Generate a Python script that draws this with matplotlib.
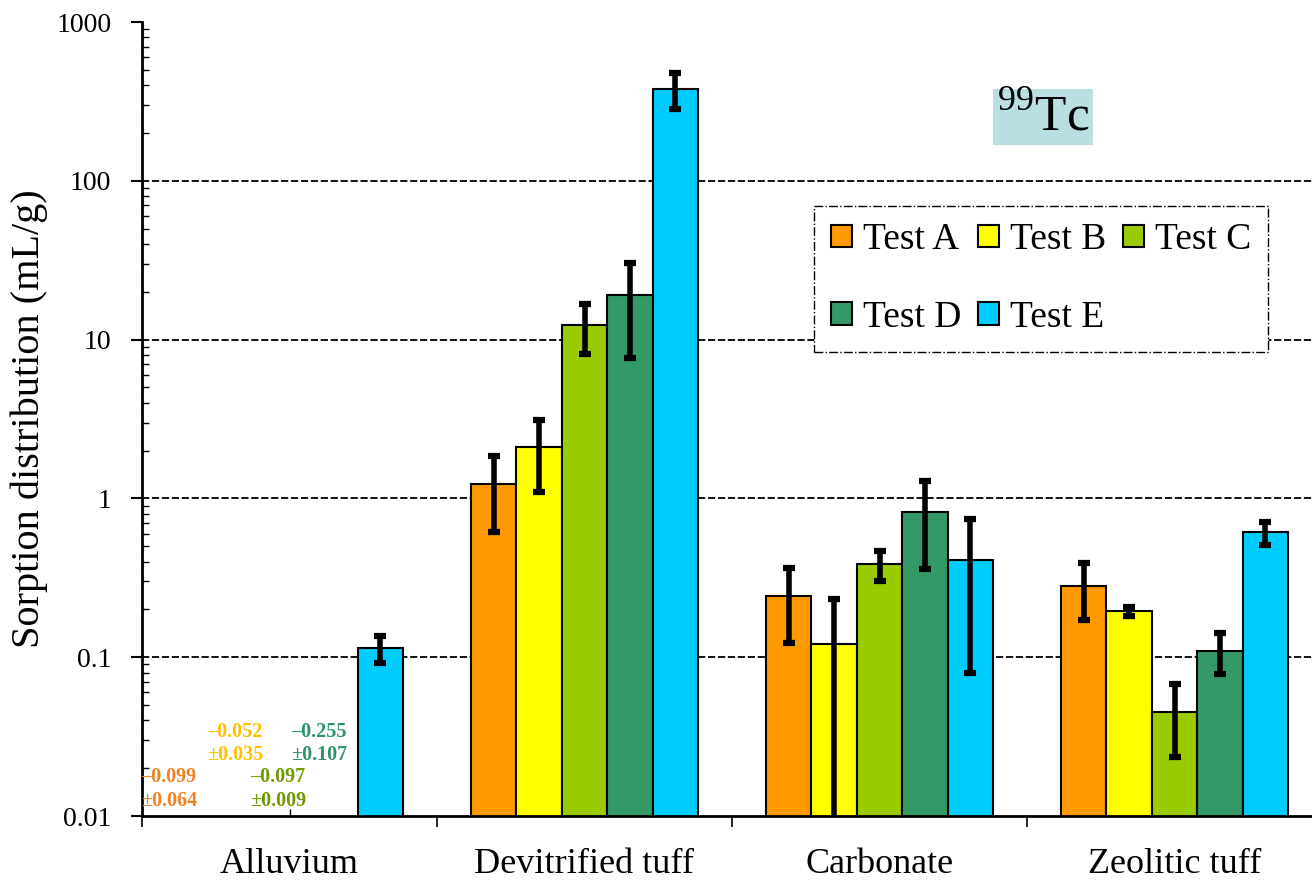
import numpy as np
import matplotlib
matplotlib.use("Agg")
import matplotlib.pyplot as plt

plt.rcParams['font.family'] = ['Liberation Serif', 'DejaVu Serif']
plt.rcParams['mathtext.fontset'] = 'custom'
plt.rcParams['mathtext.rm'] = 'Liberation Serif'

# data
categories = ["Alluvium", "Devitrified tuff", "Carbonate", "Zeolitic tuff"]
tests = ["Test A", "Test B", "Test C", "Test D", "Test E"]
colors = ["#FF9900", "#FFFF00", "#99CC00", "#339966", "#00CCFF"]

# Kd values per test (nan = negative value, shown as text)
test_a = [np.nan, 1.23, 0.243, 0.282]
test_b = [np.nan, 2.10, 0.121, 0.194]
test_c = [np.nan, 12.4, 0.385, 0.0454]
test_d = [np.nan, 19.1, 0.818, 0.110]
test_e = [0.114, 380.0, 0.409, 0.612]

err_a = [np.nan, 0.62, 0.12, 0.11]
err_b = [np.nan, 1.0, 0.112, 0.012]
err_c = [np.nan, 4.3, 0.083, 0.022]
err_d = [np.nan, 11.4, 0.46, 0.032]
err_e = [0.022, 98.0, 0.33, 0.10]

# negative alluvium values (mean, sd) for tests A-D
neg_mean = ["\u20130.099", "\u20130.052", "\u20130.097", "\u20130.255"]
neg_sd = ["\u00b10.064", "\u00b10.035", "\u00b10.009", "\u00b10.107"]
neg_colors = ["#F28322", "#FFC000", "#6E9C00", "#2E9466"]

values = [test_a, test_b, test_c, test_d, test_e]
errors = [err_a, err_b, err_c, err_d, err_e]

fig = plt.figure(figsize=(13.12, 8.81), dpi=100)
ax = fig.add_axes([142/1312, 1 - 816/881, 1 - 142/1312, (816 - 22)/881])

x = np.arange(len(categories))
w = 0.154
bars = []
for i in range(len(tests)):
    pos = x + (i - 2) * w
    b = ax.bar(pos, values[i], w, color=colors[i], edgecolor="black",
               linewidth=1.5, label=tests[i], zorder=2)
    bars.append(b)
    ax.errorbar(pos, values[i], yerr=errors[i], fmt="none", ecolor="black",
                elinewidth=4, capsize=4, capthick=4.5, zorder=3)

# text for negative values in Alluvium
shifts = [-0.10, -0.03, -0.04, -0.055]
heights = [(0.0176, 0.0124), (0.0338, 0.0242), (0.0176, 0.0124), (0.0338, 0.0242)]
for i in range(4):
    xp = x[0] + (i - 2) * w + shifts[i]
    ax.text(xp, heights[i][0], neg_mean[i], color=neg_colors[i], fontsize=14.5,
            fontweight="bold", ha="center", va="center")
    ax.text(xp, heights[i][1], neg_sd[i], color=neg_colors[i], fontsize=14.5,
            fontweight="bold", ha="center", va="center")

ax.set_yscale("log")
ax.set_ylim(0.01, 1000)
ax.set_xlim(-0.5, -0.5 + 1170/295)
ax.set_yticks([0.01, 0.1, 1, 10, 100, 1000])
ax.set_yticklabels(["0.01", "0.1", "1", "10", "100", "1000"])
ax.set_xticks([-0.5, 0.5, 1.5, 2.5])
ax.set_xticklabels([])
ax.set_xticks(x, minor=True)
ax.set_xticklabels(categories, minor=True)
ax.tick_params(axis="y", which="major", direction="out", length=8, width=1.5,
               labelsize=20, pad=14)
ax.tick_params(axis="y", which="minor", direction="in", length=5, width=1)
ax.tick_params(axis="x", which="major", direction="out", length=8, width=1.2)
ax.tick_params(axis="x", which="minor", direction="in", length=5, width=1,
               labelsize=26, pad=23)

ax.set_axisbelow(True)
for v in [0.1, 1, 10, 100]:
    ax.axhline(v, color="black", linestyle=(0, (4, 1.5)), linewidth=1.3, zorder=1)

for s in ["top", "right"]:
    ax.spines[s].set_visible(False)
ax.spines["left"].set_linewidth(2)
ax.spines["bottom"].set_linewidth(2)

ax.set_ylabel("Sorption distribution (mL/g)", fontsize=29, labelpad=6)

# row-wise legend order: A B C / D E
order = [0, 3, 1, 4, 2]
leg = ax.legend([bars[k] for k in order], [tests[k] for k in order],
                ncol=3, loc="upper left", fontsize=27,
                bbox_to_anchor=(814/1312, 1 - 206/881),
                bbox_transform=fig.transFigure, borderaxespad=0,
                handlelength=0.55, handleheight=0.55, handletextpad=0.3,
                columnspacing=0.45, labelspacing=1.15, borderpad=0.45,
                fancybox=False, framealpha=1)
leg.get_frame().set_edgecolor("black")
leg.get_frame().set_linestyle("-.")
leg.get_frame().set_linewidth(1)

fig.text(1043/1312, 1 - 117/881, r"$^{99}$Tc", fontsize=37, ha="center",
         va="center", bbox=dict(facecolor="#B9DFE2", edgecolor="none", pad=3))

fig.savefig("out.png", dpi=100)
